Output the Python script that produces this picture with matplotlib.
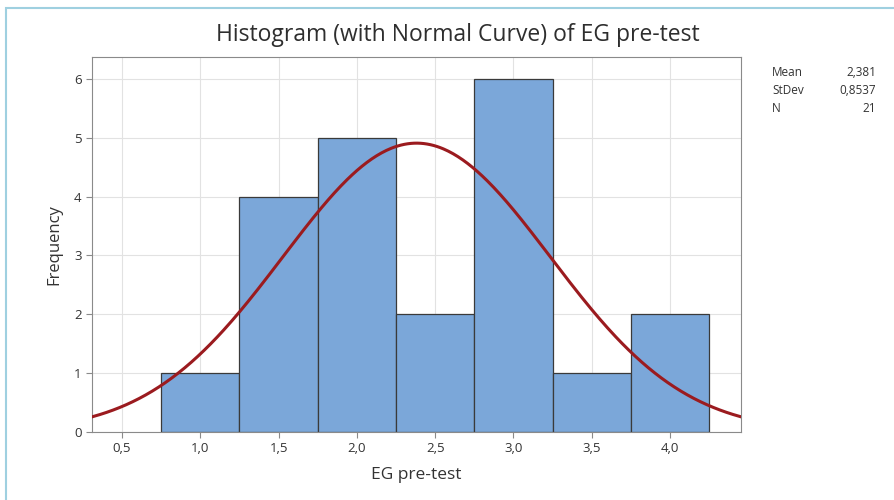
import numpy as np
import matplotlib
matplotlib.use("Agg")
import matplotlib.pyplot as plt
from matplotlib.patches import Rectangle

plt.rcParams['font.family'] = ['Open Sans', 'DejaVu Sans']

bin_edges = [0.75, 1.25, 1.75, 2.25, 2.75, 3.25, 3.75, 4.25]
counts = [1, 4, 5, 2, 6, 1, 2]
mean = 2.381
stdev = 0.8537
n = 21
xticks = [0.5, 1.0, 1.5, 2.0, 2.5, 3.0, 3.5, 4.0]
xtick_labels = ["0,5", "1,0", "1,5", "2,0", "2,5", "3,0", "3,5", "4,0"]
yticks = [0, 1, 2, 3, 4, 5, 6]

W, H = 895, 500
fig = plt.figure(figsize=(W/100, H/100), dpi=100)
ax = fig.add_axes([92/W, 1-432/H, (741-92)/W, (432-57)/H])

# frame border
fig.patches.append(Rectangle((6/W, -0.01), 1.0, 1-8/H+0.01, transform=fig.transFigure,
                             fill=False, edgecolor='#9fd0e0', linewidth=1.5))

widths = np.diff(bin_edges)
ax.bar(bin_edges[:-1], counts, width=widths, align='edge', color='#7BA7D9',
       edgecolor='#3a3a3a', linewidth=0.9, zorder=2)

xlim = (0.308, 4.453)
xs = np.linspace(xlim[0], xlim[1], 400)
bw = widths[0]
ys = n * bw * np.exp(-0.5*((xs-mean)/stdev)**2) / (stdev*np.sqrt(2*np.pi))
ax.plot(xs, ys, color='#9B1B1F', linewidth=2.2, zorder=3)

ax.set_xlim(*xlim)
ax.set_ylim(0, 6.37)
ax.set_xticks(xticks)
ax.set_xticklabels(xtick_labels)
ax.set_yticks(yticks)
ax.grid(True, color='#e2e2e2', linewidth=0.8, zorder=0)
ax.set_axisbelow(True)
for s in ax.spines.values():
    s.set_color('#8a8a8a')
ax.tick_params(axis='both', colors='#8a8a8a', labelcolor='#333333', labelsize=9.5, length=4)

ax.set_xlabel('EG pre-test', fontsize=12.5, color='#333333', labelpad=8)
ax.set_ylabel('Frequency', fontsize=12, color='#333333', labelpad=8)
fig.text(458/W, 1-35/H, 'Histogram (with Normal Curve) of EG pre-test', ha='center', va='center',
         fontsize=16.5, color='#2e2e2e', fontweight='medium')

labels = ['Mean', 'StDev', 'N']
vals = ['2,381', '0,8537', '21']
for i, (l, v) in enumerate(zip(labels, vals)):
    y = 1 - (73 + i*18)/H
    fig.text(772/W, y, l, ha='left', va='center', fontsize=8.5, color='#333333')
    fig.text(876/W, y, v, ha='right', va='center', fontsize=8.5, color='#333333')

fig.savefig('out.png', dpi=100)
